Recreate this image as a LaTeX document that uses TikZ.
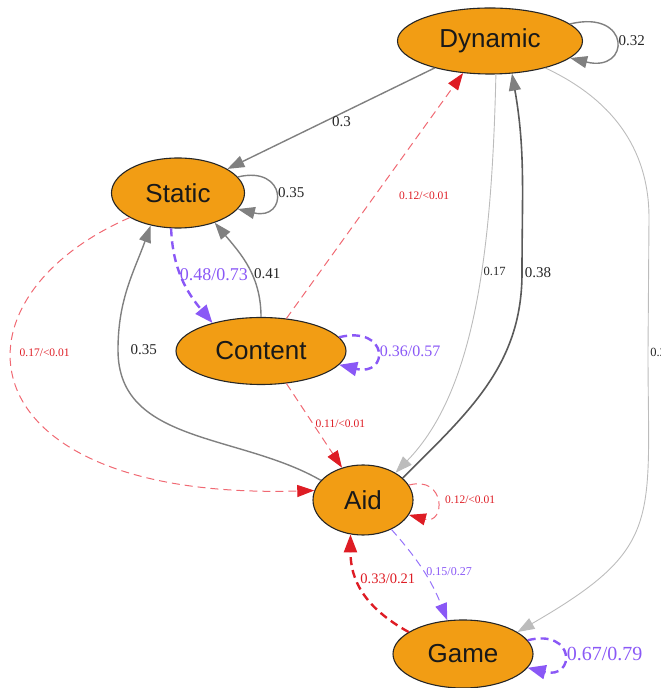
\documentclass[tikz,border=0pt]{standalone}
\usepackage{fontspec}
\setmainfont{Liberation Serif}
\setsansfont{Liberation Sans}
\usetikzlibrary{arrows.meta,shapes.geometric}

\definecolor{stateorange}{RGB}{242,157,20}
\definecolor{edgegray}{RGB}{128,128,128}
\definecolor{edgelight}{RGB}{188,188,188}
\definecolor{edgedark}{RGB}{90,90,90}
\definecolor{edgered}{RGB}{222,28,36}
\definecolor{edgepink}{RGB}{240,105,115}
\definecolor{edgepurple}{RGB}{138,88,246}
\definecolor{edgelilac}{RGB}{150,115,250}

\begin{document}
\begin{tikzpicture}[
    x = 1pt,
    y = 1pt,
    state/.style = {ellipse, draw=black!85, line width=1.1pt, fill=stateorange,
    inner sep=0pt, text=black!90, font=\sffamily\fontsize{26}{30}\selectfont},
    lbl/.style = {font=\fontsize{#1}{#1}\selectfont, inner sep=2pt, text=black!85},
    grayedge/.style = {draw=edgegray, line width=1.4pt,
    -{Triangle[length=17pt,width=12pt]}},
    lightedge/.style = {draw=edgelight, line width=0.9pt,
    -{Triangle[length=17pt,width=12pt]}},
    darkedge/.style = {draw=edgedark, line width=1.6pt,
    -{Triangle[length=17pt,width=12pt,color=edgegray]}},
    redthin/.style = {draw=edgepink, line width=1pt, dash pattern=on 8pt off 5pt,
    -{Triangle[length=17pt,width=12pt,color=edgered]}},
    redthick/.style = {draw=edgered, line width=2.4pt, dash pattern=on 8pt off 5pt,
    -{Triangle[length=18pt,width=13pt]}},
    purplethin/.style = {draw=edgelilac, line width=1pt, dash pattern=on 8pt off 5pt,
    -{Triangle[length=17pt,width=12pt,color=edgepurple]}},
    purplethick/.style = {draw=edgepurple, line width=2.4pt, dash pattern=on 8pt off 5pt,
    -{Triangle[length=18pt,width=14pt]}},
]

\useasboundingbox (0,0) rectangle (661,688);

\node[state, minimum width=185pt, minimum height=66pt] (dynamic) at (490,647) {Dynamic};
\node[state, minimum width=133pt, minimum height=70pt] (static) at (178,495) {Static};
\node[state, minimum width=170pt, minimum height=67pt] (content) at (261,337) {Content};
\node[state, minimum width=100pt, minimum height=70pt] (aid) at (363,188) {Aid};
\node[state, minimum width=140pt, minimum height=68pt] (game) at (463,34) {Game};

% from Dynamic
\draw [grayedge] (dynamic) -- (static) node[lbl=15, pos=0.45, below] {0.3};
\draw [grayedge] (dynamic.12) .. controls +(61,15) and +(61,-15) .. (dynamic.-12)
    node[lbl=15, pos=0.5, right] {0.32};
\draw [lightedge] (dynamic.-80) .. controls +(-4,-175) and +(80,82) .. (aid.40)
    node[lbl=12.5, pos=0.41, anchor=west] {0.17};
\draw [lightedge] (dynamic.-26) to[out=-25, in=90] (649,470) -- (648,336)
    node[lbl=12.5, anchor=west] {0.2} to[out=-90, in=30, looseness=1.4] (game.22);

% from Static
\draw [grayedge] (static.15) .. controls +(50,12) and +(50,-12) .. (static.-15)
    node[lbl=15, pos=0.5, right] {0.35};
\draw [purplethick] (static.-101) to[out=-88, in=130]
    node[lbl=18, text=edgepurple, pos=0.45, anchor=west, xshift=-4pt] {0.48/0.73} (content.150);
\draw [redthin] (static.207) .. controls +(-190,-83) and +(-352,-10) .. (aid.169)
    node[lbl=11.5, text=edgered, pos=0.4, anchor=west, xshift=6pt] {0.17/<0.01};

% from Content
\draw [grayedge] (content.north) to[out=90, in=-50]
    node[lbl=15, pos=0.42, anchor=west] {0.41} (static.-39);
\draw [redthin] (content.52) -- node[lbl=11.5, text=edgered, pos=0.5, anchor=west, xshift=22pt] {0.12/<0.01} (dynamic.-130);
\draw [purplethick] (content.10) .. controls +(50,12) and +(50,-12) .. (content.-10)
    node[lbl=16, text=edgepurple, pos=0.5, right] {0.36/0.57};
\draw [redthin] (content.-52) -- node[lbl=11.5, text=edgered, pos=0.48, anchor=west] {0.11/<0.01} (aid.123);

% from Aid
\draw [grayedge] (aid.155) to[out=150, in=-90] (118,338)
    node[lbl=15, anchor=west, xshift=10pt] {0.35} to[out=90, in=-110] (static.230);
\draw [darkedge] (aid.29) to[out=45, in=-90] (522,415)
    node[lbl=15, anchor=west] {0.38} to[out=90, in=-80] (dynamic.-56);
\draw [redthin] (aid.18) .. controls +(37,10) and +(37,-10) .. (aid.-18)
    node[lbl=11.5, text=edgered, pos=0.5, anchor=west, xshift=6pt] {0.12/<0.01};
\draw [purplethin] (aid.-46) to[bend left=10]
    node[lbl=12, text=edgepurple, pos=0.5, anchor=west] {0.15/0.27} (game.115);

% from Game
\draw [redthick] (game.158) .. controls +(-45,25) and +(0,-45) .. (aid.-110)
    node[lbl=14.5, text=edgered, pos=0.62, anchor=west] {0.33/0.21};
\draw [purplethick] (game.12) .. controls +(48,12) and +(48,-12) .. (game.-12)
    node[lbl=20, text=edgepurple, pos=0.5, right] {0.67/0.79};

\end{tikzpicture}
\end{document}
